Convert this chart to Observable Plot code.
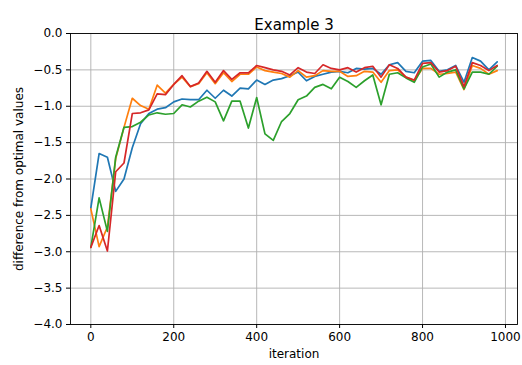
<!DOCTYPE html>
<html>
<head>
<meta charset="utf-8">
<script src="https://cdn.jsdelivr.net/npm/d3@7"></script>
<script src="https://cdn.jsdelivr.net/npm/@observablehq/plot@0.6"></script>
<style>
  body { margin: 0; background: #fff; }
</style>
</head>
<body>
<div id="chart"></div>
<script>
const iterations = [0,20,40,60,80,100,120,140,160,180,200,220,240,260,280,300,320,340,360,380,400,420,440,460,480,500,520,540,560,580,600,620,640,660,680,700,720,740,760,780,800,820,840,860,880,900,920,940,960,980];

const seriesBlue = [-2.40,-1.65,-1.70,-2.17,-2.00,-1.57,-1.24,-1.10,-1.04,-1.02,-0.94,-0.90,-0.91,-0.91,-0.78,-0.89,-0.78,-0.86,-0.75,-0.76,-0.64,-0.70,-0.64,-0.62,-0.58,-0.53,-0.65,-0.59,-0.56,-0.53,-0.52,-0.54,-0.48,-0.49,-0.48,-0.56,-0.43,-0.40,-0.52,-0.54,-0.38,-0.37,-0.52,-0.50,-0.44,-0.67,-0.33,-0.38,-0.50,-0.39];
const seriesOrange = [-2.41,-2.93,-2.66,-1.72,-1.29,-0.89,-0.99,-1.04,-0.71,-0.82,-0.70,-0.60,-0.73,-0.69,-0.54,-0.69,-0.54,-0.66,-0.56,-0.56,-0.46,-0.51,-0.53,-0.55,-0.60,-0.51,-0.60,-0.58,-0.51,-0.52,-0.52,-0.59,-0.58,-0.52,-0.53,-0.67,-0.51,-0.50,-0.60,-0.65,-0.48,-0.48,-0.56,-0.55,-0.53,-0.77,-0.44,-0.48,-0.56,-0.51];
const seriesGreen = [-2.94,-2.26,-2.72,-1.70,-1.29,-1.28,-1.22,-1.12,-1.09,-1.11,-1.10,-0.98,-1.01,-0.93,-0.875,-0.94,-1.20,-0.93,-0.93,-1.30,-0.88,-1.38,-1.47,-1.21,-1.10,-0.91,-0.86,-0.74,-0.70,-0.76,-0.60,-0.66,-0.74,-0.65,-0.57,-0.98,-0.56,-0.54,-0.61,-0.67,-0.46,-0.42,-0.60,-0.53,-0.50,-0.76,-0.53,-0.53,-0.56,-0.45];
const seriesRed = [-2.94,-2.64,-2.99,-1.90,-1.78,-1.10,-1.09,-1.05,-0.83,-0.84,-0.70,-0.58,-0.73,-0.68,-0.52,-0.67,-0.51,-0.63,-0.54,-0.54,-0.44,-0.47,-0.50,-0.52,-0.57,-0.47,-0.53,-0.55,-0.43,-0.48,-0.50,-0.47,-0.53,-0.47,-0.45,-0.60,-0.43,-0.48,-0.60,-0.64,-0.41,-0.40,-0.53,-0.51,-0.45,-0.73,-0.40,-0.44,-0.51,-0.44];

const seriesNames = ["s1","s2","s3","s4"];
const seriesColors = ["#1f77b4","#ff7f0e","#2ca02c","#d62728"];
const xTicks = [0,200,400,600,800,1000];
const yTicks = [-4.0,-3.5,-3.0,-2.5,-2.0,-1.5,-1.0,-0.5,0.0];

const titleText = "Example 3";
const xLabel = "iteration";
const yLabel = "difference from optimal values";

const allSeries = [seriesBlue, seriesOrange, seriesGreen, seriesRed];
const data = [];
allSeries.forEach((vals, si) => {
  vals.forEach((v, i) => data.push({series: seriesNames[si], x: iterations[i], y: v}));
});

const fs = 12;
const chart = Plot.plot({
  width: 522,
  height: 365,
  marginTop: 33,
  marginRight: 5,
  marginBottom: 41,
  marginLeft: 70,
  style: {fontFamily: "DejaVu Sans", fontSize: fs + "px", background: "#fff", color: "#000"},
  x: {domain: [-49, 1029]},
  y: {domain: [-4, 0]},
  color: {domain: seriesNames, range: seriesColors},
  marks: [
    Plot.gridX(xTicks, {stroke: "#b0b0b0", strokeOpacity: 1, strokeWidth: 0.9}),
    Plot.gridY(yTicks, {stroke: "#b0b0b0", strokeOpacity: 1, strokeWidth: 0.9}),
    Plot.line(data, {x: "x", y: "y", z: "series", stroke: "series", strokeWidth: 1.7}),
    Plot.frame({stroke: "#000", strokeWidth: 0.9}),
    Plot.axisX(xTicks, {tickSize: 4, tickPadding: 4, label: null, fontSize: fs, tickFormat: d3.format("d")}),
    Plot.axisY(yTicks, {tickSize: 4, tickPadding: 4, label: null, fontSize: fs, tickFormat: d3.format(".1f")}),
    Plot.text([titleText], {frameAnchor: "top", dy: -14, fontSize: 15}),
    Plot.text([xLabel], {frameAnchor: "bottom", dy: 33, fontSize: fs}),
    Plot.text([yLabel], {frameAnchor: "left", textAnchor: "middle", dx: -51, rotate: -90, fontSize: fs})
  ]
});
document.getElementById("chart").appendChild(chart);
</script>
</body>
</html>
